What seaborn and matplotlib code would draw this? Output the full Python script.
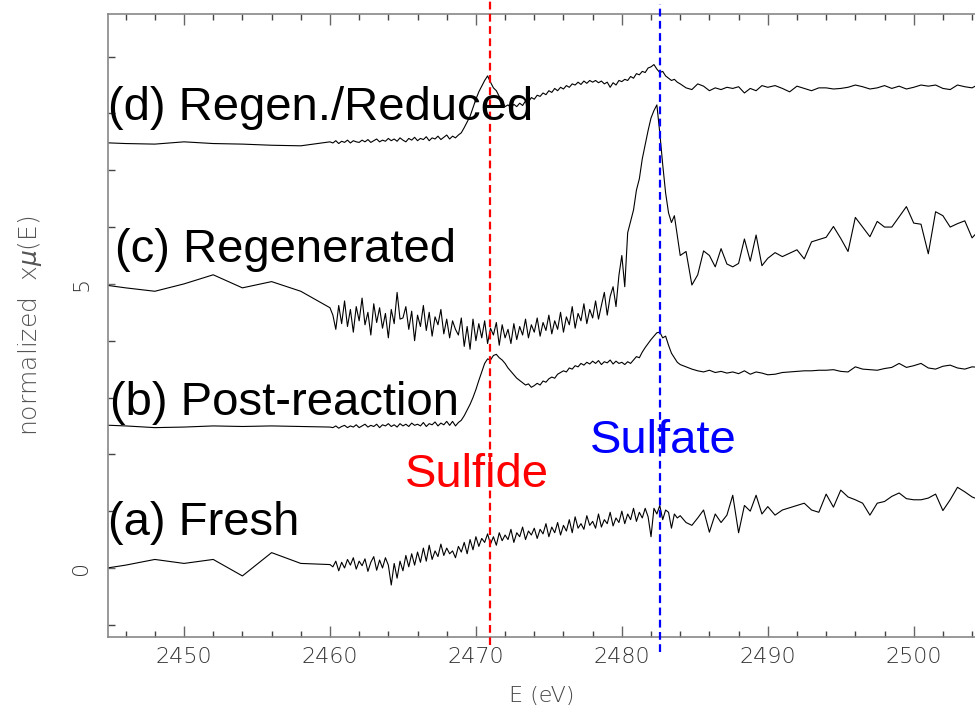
import numpy as np
import pandas as pd
import matplotlib
matplotlib.use("Agg")
import matplotlib.pyplot as plt
import seaborn as sns
from matplotlib.ticker import MultipleLocator

# ---------------- data ----------------
coarse_e = [2444, 2446, 2448, 2450, 2452, 2454, 2456, 2458, 2460]
fine_e = list(np.round(np.arange(2460.2, 2484.01, 0.2), 1))   # 120 pts
mid_e = list(np.round(np.arange(2484.4, 2490.01, 0.4), 1))    # 15 pts
tail_e = list(np.round(np.arange(2490.5, 2505.01, 0.5), 1))   # 30 pts
energy = coarse_e + fine_e + mid_e + tail_e

fresh = (
    [-0.03, 0.05, 0.15, 0.08, 0.15, -0.14, 0.27, 0.08, 0.06]
    + [0.02, 0.12, -0.05, 0.10, 0.00, 0.15, 0.05, 0.18, -0.02, 0.12,
       0.04, 0.16, -0.06, 0.10, 0.20, -0.04, 0.14, 0.00, 0.18, 0.05,
       -0.30, 0.08, -0.18, 0.12, -0.05, 0.22, 0.02, 0.25, 0.05, 0.28,
       0.10, 0.35, 0.12, 0.40, 0.15, 0.30, 0.20, 0.42, 0.22, 0.35,
       0.25, 0.30, 0.18, 0.38, 0.28, 0.45, 0.25, 0.50, 0.32, 0.55,
       0.38, 0.52, 0.45, 0.60, 0.42, 0.55, 0.40, 0.62, 0.48, 0.58,
       0.50, 0.68, 0.45, 0.62, 0.55, 0.72, 0.50, 0.65, 0.58, 0.70,
       0.52, 0.68, 0.60, 0.78, 0.55, 0.72, 0.62, 0.80, 0.58, 0.75,
       0.65, 0.85, 0.62, 0.90, 0.70, 0.78, 0.68, 0.92, 0.75, 0.82,
       0.70, 0.95, 0.72, 0.85, 0.78, 0.98, 0.74, 0.88, 0.80, 1.00,
       0.78, 0.95, 0.85, 1.05, 0.82, 0.98, 0.88, 1.05, 0.90, 0.55,
       1.05, 0.95, 1.10, 0.85, 1.02, 0.98, 0.70, 0.95, 0.88, 0.92]
    + [0.80, 0.75, 0.88, 1.02, 0.63, 0.95, 0.80, 0.93, 1.28, 0.62,
       1.10, 1.00, 1.28, 0.95, 1.08]
    + [0.93, 1.02, 1.06, 1.10, 1.14, 1.02, 0.98, 1.30, 1.07, 1.37,
       1.25, 1.20, 1.14, 0.93, 1.14, 1.17, 1.26, 1.32, 1.22, 1.20,
       1.20, 1.23, 1.30, 1.01, 1.20, 1.42, 1.34, 1.25, 1.20, 1.30]
)

post_reaction = (
    [2.52, 2.50, 2.47, 2.48, 2.50, 2.49, 2.50, 2.49, 2.48]
    + [2.47, 2.50, 2.46, 2.49, 2.51, 2.47, 2.50, 2.48, 2.52, 2.47,
       2.50, 2.53, 2.48, 2.51, 2.49, 2.53, 2.47, 2.52, 2.50, 2.54,
       2.49, 2.52, 2.48, 2.54, 2.50, 2.53, 2.49, 2.55, 2.51, 2.53,
       2.50, 2.56, 2.49, 2.54, 2.52, 2.57, 2.50, 2.55, 2.52, 2.58,
       2.51, 2.58, 2.50, 2.56, 2.60, 2.68, 2.78, 2.88, 3.00, 3.14,
       3.30, 3.45, 3.60, 3.68, 3.66, 3.74, 3.76, 3.70, 3.66, 3.60,
       3.52, 3.46, 3.40, 3.34, 3.30, 3.26, 3.22, 3.24, 3.18, 3.21,
       3.25, 3.22, 3.29, 3.27, 3.33, 3.36, 3.34, 3.41, 3.44, 3.47,
       3.45, 3.52, 3.50, 3.56, 3.54, 3.60, 3.57, 3.62, 3.59, 3.64,
       3.60, 3.65, 3.58, 3.63, 3.61, 3.66, 3.59, 3.64, 3.60, 3.62,
       3.58, 3.63, 3.60, 3.66, 3.72, 3.70, 3.80, 3.88, 3.95, 4.02,
       4.08, 4.14, 4.15, 4.05, 4.08, 3.92, 3.78, 3.70, 3.62, 3.58]
    + [3.54, 3.50, 3.47, 3.45, 3.48, 3.44, 3.46, 3.43, 3.45, 3.42,
       3.47, 3.41, 3.45, 3.43, 3.40]
    + [3.41, 3.44, 3.45, 3.46, 3.47, 3.47, 3.48, 3.48, 3.49, 3.46,
       3.45, 3.54, 3.50, 3.49, 3.48, 3.51, 3.53, 3.60, 3.53, 3.56,
       3.60, 3.52, 3.50, 3.55, 3.57, 3.52, 3.50, 3.54, 3.53, 3.52]
)

regenerated = (
    [5.00, 4.93, 4.87, 5.00, 5.16, 4.93, 5.04, 4.87, 4.58]
    + [4.45, 4.20, 4.62, 4.30, 4.70, 4.25, 4.55, 4.15, 4.60, 4.35,
       4.75, 4.28, 4.50, 4.10, 4.65, 4.32, 4.58, 4.22, 4.48, 4.05,
       4.55, 4.30, 4.85, 4.38, 4.40, 4.60, 4.20, 4.52, 4.00, 4.45,
       4.25, 4.62, 4.18, 4.50, 4.08, 4.42, 4.28, 4.55, 4.12, 4.38,
       4.05, 4.35, 4.20, 4.10, 4.40, 3.90, 4.25, 3.85, 4.38, 4.00,
       4.30, 4.05, 4.35, 3.95, 4.22, 4.10, 4.32, 3.92, 4.28, 4.05,
       4.20, 3.95, 4.30, 4.02, 4.25, 4.10, 4.38, 4.05, 4.28, 4.15,
       4.40, 4.08, 4.32, 4.18, 4.45, 4.12, 4.35, 4.20, 4.50, 4.15,
       4.42, 4.28, 4.60, 4.22, 4.48, 4.35, 4.65, 4.30, 4.55, 4.40,
       4.70, 4.38, 4.62, 4.85, 4.45, 4.78, 4.95, 4.60, 5.15, 5.50,
       4.95, 5.90, 6.10, 6.30, 6.65, 6.85, 7.20, 7.45, 7.70, 7.92,
       8.05, 8.15, 7.66, 7.10, 6.60, 6.25, 6.08, 6.20, 5.85, 5.50]
    + [5.57, 4.98, 5.16, 5.58, 5.50, 5.30, 5.62, 5.35, 5.30, 5.36,
       5.79, 5.40, 5.86, 5.32, 5.45]
    + [5.55, 5.48, 5.54, 5.60, 5.44, 5.74, 5.78, 5.82, 6.01, 5.80,
       5.57, 6.17, 6.00, 5.83, 6.10, 6.00, 6.00, 6.18, 6.36, 6.07,
       6.05, 5.53, 6.27, 6.20, 6.00, 6.06, 6.11, 5.81, 5.95, 6.00]
)

regen_reduced = (
    [7.49, 7.47, 7.46, 7.50, 7.47, 7.46, 7.44, 7.43, 7.50]
    + [7.48, 7.52, 7.47, 7.51, 7.49, 7.53, 7.48, 7.52, 7.50, 7.49,
       7.53, 7.50, 7.54, 7.49, 7.52, 7.55, 7.50, 7.53, 7.51, 7.56,
       7.52, 7.55, 7.51, 7.57, 7.53, 7.50, 7.56, 7.53, 7.58, 7.52,
       7.56, 7.54, 7.59, 7.52, 7.57, 7.55, 7.60, 7.54, 7.58, 7.62,
       7.55, 7.60, 7.57, 7.62, 7.66, 7.75, 7.85, 7.95, 8.10, 8.25,
       8.38, 8.48, 8.58, 8.66, 8.55, 8.45, 8.40, 8.30, 8.20, 8.12,
       8.15, 8.10, 8.16, 8.12, 8.18, 8.14, 8.22, 8.20, 8.28, 8.25,
       8.32, 8.30, 8.36, 8.33, 8.40, 8.37, 8.44, 8.40, 8.46, 8.43,
       8.49, 8.46, 8.52, 8.50, 8.55, 8.51, 8.57, 8.53, 8.58, 8.55,
       8.58, 8.54, 8.57, 8.52, 8.55, 8.46, 8.54, 8.50, 8.58, 8.56,
       8.60, 8.58, 8.65, 8.62, 8.70, 8.68, 8.74, 8.72, 8.80, 8.82,
       8.86, 8.78, 8.72, 8.74, 8.66, 8.62, 8.58, 8.60, 8.55, 8.52]
    + [8.45, 8.42, 8.52, 8.48, 8.40, 8.45, 8.42, 8.46, 8.44, 8.47,
       8.36, 8.44, 8.40, 8.49, 8.46]
    + [8.49, 8.44, 8.38, 8.48, 8.44, 8.40, 8.45, 8.45, 8.43, 8.44,
       8.46, 8.50, 8.47, 8.43, 8.45, 8.49, 8.44, 8.48, 8.43, 8.46,
       8.50, 8.48, 8.50, 8.44, 8.42, 8.50, 8.47, 8.45, 8.52, 8.50]
)

series_names = ["(a) Fresh", "(b) Post-reaction", "(c) Regenerated", "(d) Regen./Reduced"]
series_values = [fresh, post_reaction, regenerated, regen_reduced]
label_x = [2444.8, 2444.9, 2445.3, 2444.8]
label_y = [0.58, 2.69, 5.39, 7.89]

edge_names = ["Sulfide", "Sulfate"]
edge_energy = [2470.95, 2482.6]
edge_colors = ["#ff0000", "#0000ff"]
edge_label_x = [2465.15, 2477.8]
edge_label_y = [1.43, 2.02]

x_ticks = [2450, 2460, 2470, 2480, 2490, 2500]
y_ticks = [0, 5]

# ---------------- plot ----------------
sns.set_theme(style="white")
plt.rcParams["font.family"] = ["Liberation Sans", "DejaVu Sans"]

fig = plt.figure(figsize=(9.75, 7.05), dpi=100)
ax = fig.add_axes([108 / 975, 68 / 705, 1 - 108 / 975, (691 - 68) / 705])

for name, vals in zip(series_names, series_values):
    df = pd.DataFrame({"energy": energy, "mu": vals})
    sns.lineplot(data=df, x="energy", y="mu", ax=ax, color="black",
                 linewidth=0.8, estimator=None, sort=False)

ax.set_xlim(2444.79, 2504.2)
ax.set_ylim(-1.215, 9.75)

# edge markers
ext = [(10.0, -1.36), (9.92, -1.48)]
for e, c, (top, bot) in zip(edge_energy, edge_colors, ext):
    ax.plot([e, e], [bot, top], color=c, linewidth=1.6, linestyle=(0, (3.5, 2)),
            clip_on=False, zorder=5)

for name, x, y in zip(series_names, label_x, label_y):
    ax.text(x, y, name, fontsize=34, color="black", ha="left", va="baseline",
            zorder=6)
for name, x, y, c in zip(edge_names, edge_label_x, edge_label_y, edge_colors):
    ax.text(x, y, name, fontsize=34, color=c, ha="left", va="baseline", zorder=6)

# axes styling
for side in ["left", "bottom", "top"]:
    ax.spines[side].set_color("#888888")
    ax.spines[side].set_linewidth(1.2)
ax.spines["right"].set_visible(False)

ax.set_xticks(x_ticks)
ax.xaxis.set_minor_locator(MultipleLocator(2))
ax.set_yticks(y_ticks)
ax.yaxis.set_minor_locator(MultipleLocator(1))
ax.tick_params(axis="x", which="major", direction="in", length=8, width=1.0,
               color="#666666", top=True, bottom=True, pad=7,
               labelsize=16, labelcolor="#333333")
ax.tick_params(axis="x", which="minor", direction="in", length=4, width=1.0,
               color="#444444", top=True, bottom=True)
ax.tick_params(axis="y", which="major", direction="in", length=5, width=1.0,
               color="#666666", left=True, right=False, pad=12,
               labelsize=16, labelcolor="#333333")
ax.tick_params(axis="y", which="minor", direction="in", length=5, width=1.0,
               color="#444444", left=True, right=False)
for lab in ax.get_xticklabels() + ax.get_yticklabels():
    lab.set_fontfamily(["DejaVu Sans"])
    lab.set_fontweight("light")
for lab in ax.get_yticklabels():
    lab.set_rotation(90)
    lab.set_va("center")

ax.set_ylabel(r"normalized  x$\mu$(E)", fontsize=18, color="#555555",
              family=["DejaVu Sans"], fontweight="light", labelpad=20)
ax.set_xlabel("E (eV)", fontsize=16, color="#444444",
              family=["DejaVu Sans"], fontweight="light", labelpad=14)

fig.savefig("out.png", dpi=100)
